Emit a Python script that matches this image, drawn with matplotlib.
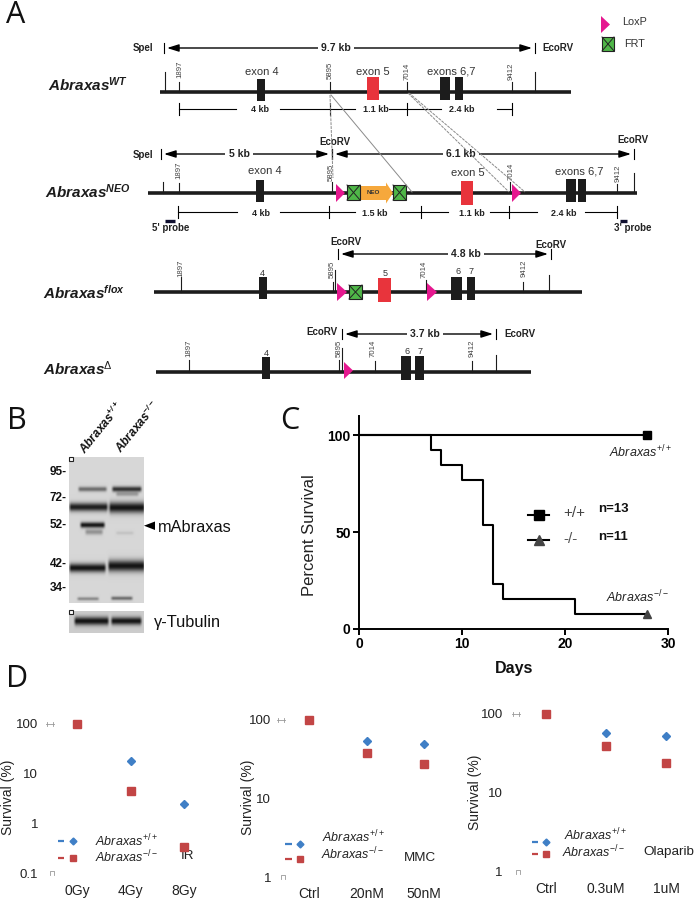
import numpy as np
import matplotlib
matplotlib.use("Agg")
import matplotlib.pyplot as plt
from matplotlib.patches import Rectangle, Polygon, FancyArrow
from matplotlib.ticker import FixedLocator, FixedFormatter, NullLocator

plt.rcParams['font.family'] = ['Liberation Sans', 'DejaVu Sans']
plt.rcParams['mathtext.fontset'] = 'custom'
plt.rcParams['mathtext.rm'] = 'Liberation Sans'
plt.rcParams['mathtext.it'] = 'Liberation Sans:italic'
plt.rcParams['mathtext.bf'] = 'Liberation Sans:bold'
plt.rcParams['mathtext.bfit'] = 'Liberation Sans:italic:bold'
plt.rcParams['mathtext.fallback'] = 'stixsans'

W, H = 697, 900
NARROW = ['Liberation Sans Narrow', 'Liberation Sans']
PINK, RED, ORANGE, GREEN = '#E5188F', '#E8343C', '#F6A83C', '#4FB748'
BLUE, DRED, BK = '#3F7FC6', '#C24545', '#1c1c1c'

# ---------- panel C data ----------
km_days = [0, 7, 8, 10, 12, 13, 14, 21, 28]
km_ko = [100, 92.3, 84.6, 76.9, 53.8, 23.1, 15.4, 7.7, 7.7]
km_wt_days = [0, 28]
km_wt = [100, 100]

# ---------- panel D data ----------
ir_doses = ['0Gy', '4Gy', '8Gy']
ir_wt = [100, 17.8, 2.4]
ir_ko = [100, 4.5, 0.34]
mmc_doses = ['Ctrl', '20nM', '50nM']
mmc_wt = [100, 54, 50]
mmc_ko = [100, 38, 27.5]
ola_doses = ['Ctrl', '0.3uM', '1uM']
ola_wt = [100, 57.5, 52]
ola_ko = [100, 39, 24]

# ---------- panel B data: (lane x0, x1, y centre, y sigma, darkness) ----------
blot_bands = [
    (77, 108, 489, 1.7, .55), (111, 143, 489, 1.9, .85), (115, 140, 494, 1.5, .30),
    (68, 109, 507, 3.0, .95), (108, 146, 507.5, 3.8, 1.0),
    (79, 106, 525, 2.0, 1.0), (84, 104, 532, 1.9, .35), (115, 135, 533, 1.2, .10),
    (68, 107, 568, 3.1, 1.0), (107, 146, 566, 4.0, 1.0),
    (76, 100, 599, 1.2, .40), (110, 134, 598.5, 1.3, .55),
]
tub_bands = [(73, 110, 621, 3.0, 1.0), (110, 143, 621, 2.8, 1.0)]
mw_labels = ['95-', '72-', '52-', '42-', '34-']
mw_y = [472, 498, 525, 564, 588]

# ---------- panel A data ----------
pos_labels = ['1897', '5895', '7014', '9412']
wt = dict(y=92, line=(160, 571),
          ticks=[(165, 72), (179, 82), (330, 82), (407, 82), (512, 82), (535, 72)],
          nums=[(180, 69), (330, 70), (407, 71), (511, 71)],
          black=[(257, 265, 79, 101), (440, 450, 77, 100), (455, 463, 77, 100)],
          red=[(367, 379, 77, 100)], lox=[], frt=[],
          labels=[('exon 4', 262, 72), ('exon 5', 373, 72), ('exons 6,7', 451, 71)])
neo = dict(y=193, line=(148, 637),
           ticks=[(163, 182), (179, 183), (332, 182), (510, 182), (617, 184), (634, 173)],
           nums=[(179, 170), (331, 172), (511, 171), (618, 173)],
           black=[(256, 264, 180, 202), (566, 576, 179, 202), (578, 586, 179, 202)],
           red=[(461, 473, 181, 205)], lox=[(336, 345, 184, 202), (512, 521, 184, 202)],
           frt=[(347, 360, 185, 200), (393, 406, 185, 200)],
           labels=[('exon 4', 265, 171), ('exon 5', 468, 173), ('exons 6,7', 579, 171)])
flox = dict(y=292, line=(154, 582),
            ticks=[(181, 277), (333, 282), (335, 270), (426, 280), (523, 282), (549, 275)],
            nums=[(181, 268), (332, 269), (424, 269), (524, 268)],
            black=[(259, 267, 277, 299), (451, 462, 277, 300), (467, 475, 277, 300)],
            red=[(378, 391, 278, 302)], lox=[(337, 347, 283, 301), (427, 437, 283, 301)],
            frt=[(349, 362, 285, 299)],
            labels=[('4', 262, 273), ('5', 385, 274), ('6', 458, 271), ('7', 471, 271)])
delta = dict(y=372, line=(156, 531),
             ticks=[(188.5, 360), (339, 360), (342, 348), (375, 361), (472, 361), (496, 355)],
             nums=[(189, 348), (339, 348), (373, 348), (472, 348)],
             black=[(262, 270, 357, 379), (401, 411, 356, 380), (415, 424, 356, 380)],
             red=[], lox=[(344, 353, 362, 379)], frt=[],
             labels=[('4', 266, 354), ('6', 407, 351), ('7', 420, 351)])
rows = [wt, neo, flox, delta]

row_names = [(r'$\mathbfit{Abraxas}^{\mathbfit{WT}}$', 48, 85),
             (r'$\mathbfit{Abraxas}^{\mathbfit{NEO}}$', 45, 192),
             (r'$\mathbfit{Abraxas}^{\mathbfit{flox}}$', 43, 293),
             (r'$\mathbfit{Abraxas}^{\Delta}$', 43, 369)]

# (x0, x1, y, label, label x)
span_arrows = [(164, 535, 48, '9.7 kb', 336), (161, 332, 154, '5 kb', 239),
               (332, 634, 154, '6.1 kb', 461), (338, 551, 254, '4.8 kb', 466),
               (342, 496, 334, '3.7 kb', 425)]
site_text = [('SpeI', 143, 48), ('EcoRV', 558, 48), ('SpeI', 143, 155), ('EcoRV', 335, 142),
             ('EcoRV', 633, 140), ('EcoRV', 346, 242), ('EcoRV', 551, 245),
             ('EcoRV', 322, 332), ('EcoRV', 520, 334), ("5' probe", 171, 228), ("3' probe", 633, 228)]
meas_rows = [
    dict(y=109, ticks=[179, 330, 407, 512],
         segs=[(179, 236), (280, 355), (389, 441), (497, 512)],
         labels=[('4 kb', 260), ('1.1 kb', 376), ('2.4 kb', 462)]),
    dict(y=212, ticks=[178, 329, 421, 509, 617],
         segs=[(178, 237), (280, 355), (400, 448), (490, 537), (585, 617)],
         labels=[('4 kb', 261), ('1.5 kb', 375), ('1.1 kb', 472), ('2.4 kb', 564)]),
]
probes = [(165, 175, 221), (620, 627, 221)]
homology = [((330, 95), (333, 178), '--'), ((331, 95), (412, 192), '-'),
            ((408, 93), (509, 192), '--'), ((409, 93), (525, 192), '--')]


def px_axes(x0, x1, ytop, ybot):
    return fig.add_axes([x0 / W, 1 - ybot / H, (x1 - x0) / W, (ybot - ytop) / H], facecolor='none')


fig = plt.figure(figsize=(W / 100, H / 100), dpi=100, facecolor='white')
ov = fig.add_axes([0, 0, 1, 1])
ov.set_xlim(0, W)
ov.set_ylim(H, 0)
ov.axis('off')

for s, x, y in [('A', 16, 15), ('B', 16.5, 421), ('C', 290, 421), ('D', 17, 679)]:
    ov.text(x, y, s, fontsize=22, ha='center', va='center', family=['Open Sans', 'Liberation Sans'], color='#111')


def lox_tri(x0, x1, y0, y1):
    ov.add_patch(Polygon([(x0, y0), (x1, (y0 + y1) / 2), (x0, y1)], fc=PINK, ec='none', zorder=5))


def frt_box(x0, x1, y0, y1):
    ov.add_patch(Rectangle((x0, y0), x1 - x0, y1 - y0, fc=GREEN, ec='#222', lw=.8, zorder=6))
    ov.plot([x0, x1], [y0, y1], color='#222', lw=.7, zorder=7)
    ov.plot([x0, x1], [y1, y0], color='#222', lw=.7, zorder=7)


# ---------- Panel A ----------
for p0, p1, ls in homology:
    ov.plot([p0[0], p1[0]], [p0[1], p1[1]], color='#8a8a8a', lw=.7, ls=ls, dashes=(3, 1) if ls == '--' else (None, None), zorder=8)

for r in rows:
    ov.plot(r['line'], [r['y']] * 2, color=BK, lw=2.6, solid_capstyle='butt', zorder=2)
    for x, top in r['ticks']:
        ov.plot([x, x], [top, r['y']], color=BK, lw=.8, zorder=1)
    for lab, (x, y) in zip(pos_labels, r['nums']):
        ov.text(x, y, lab, fontsize=5.6, rotation=90, ha='center', va='center', color='#444', family=NARROW)
    for x0, x1, y0, y1 in r['black']:
        ov.add_patch(Rectangle((x0, y0), x1 - x0, y1 - y0, fc=BK, ec='none', zorder=3))
    for x0, x1, y0, y1 in r['red']:
        ov.add_patch(Rectangle((x0, y0), x1 - x0, y1 - y0, fc=RED, ec='none', zorder=3))
    for b in r['lox']:
        lox_tri(*b)
    for b in r['frt']:
        frt_box(*b)
    for s, x, y in r['labels']:
        ov.text(x, y, s, fontsize=8 if len(s) > 1 else 6.5, ha='center', va='center', color='#333', family=NARROW)

ov.add_patch(FancyArrow(360, 193, 33, 0, width=14, head_width=21, head_length=7,
                        length_includes_head=True, fc=ORANGE, ec='none', zorder=5))
ov.text(373, 193, 'NEO', fontsize=4.5, fontweight='bold', ha='center', va='center', color='#333', zorder=6)

for s, x, y in row_names:
    ov.text(x, y, s, fontsize=11, ha='left', va='center', color=BK)

for x0, x1, y, lab, lx in span_arrows:
    ov.annotate('', xy=(x1 - 3, y), xytext=(lx, y), zorder=3,
                arrowprops=dict(arrowstyle='-|>,head_length=.7,head_width=.22', lw=1, color='k', shrinkA=0, shrinkB=0))
    ov.annotate('', xy=(x0 + 3, y), xytext=(lx, y), zorder=3,
                arrowprops=dict(arrowstyle='-|>,head_length=.7,head_width=.22', lw=1, color='k', shrinkA=0, shrinkB=0))
    for x in (x0, x1):
        ov.plot([x, x], [y - 5, y + 5], color='k', lw=.8)
    ov.text(lx, y, lab, fontsize=7.5, fontweight='bold', ha='center', va='center', family=NARROW, color='#222',
            zorder=4, bbox=dict(fc='white', ec='none', pad=2.5))

for s, x, y in site_text:
    ov.text(x, y, s, fontsize=7, fontweight='bold', ha='center', va='center', family=NARROW, color='#222')

for m in meas_rows:
    for x0, x1 in m['segs']:
        ov.plot([x0, x1], [m['y']] * 2, color='k', lw=.8)
    for x in m['ticks']:
        ov.plot([x, x], [m['y'] - 6, m['y'] + 6], color='k', lw=.8)
    for s, x in m['labels']:
        ov.text(x, m['y'] + 1, s, fontsize=6.5, fontweight='bold', ha='center', va='center', family=NARROW, color='#222')

for x0, x1, y in probes:
    ov.plot([x0, x1], [y, y], color='#101030', lw=2.4, solid_capstyle='butt')

lox_tri(601, 610, 16, 33)
ov.text(622, 22, 'LoxP', fontsize=7.8, va='center', family=NARROW, color='#333')
frt_box(602, 614, 37, 51)
ov.text(624, 44, 'FRT', fontsize=7.8, va='center', family=NARROW, color='#333')

# ---------- Panel B ----------
def blot(bands, ext, bg, ax=ov):
    x0, x1, y0, y1 = ext
    xs = np.linspace(x0, x1, int(x1 - x0) * 2)
    ys = np.linspace(y0, y1, int(y1 - y0) * 2)
    X, Y = np.meshgrid(xs, ys)
    dark = np.zeros_like(X)
    for a, b, yc, sig, d in bands:
        edge = np.clip((X - a) / 3, 0, 1) * np.clip((b - X) / 3, 0, 1)
        dark += d * edge * np.exp(-.5 * ((Y - yc) / sig) ** 2)
    img = bg * (1 - np.clip(dark, 0, 1)) + .08 * np.clip(dark, 0, 1)
    ax.imshow(img, extent=(x0, x1, y1, y0), cmap='gray', vmin=0, vmax=1, aspect='auto', zorder=1, interpolation='bilinear')


blot(blot_bands, (69, 144, 457, 603), .84)
blot(tub_bands, (69, 144, 611, 633), .80)
ov.set_xlim(0, W)
ov.set_ylim(H, 0)
for y in (458.5, 612):
    ov.add_patch(Rectangle((68.7, y - 2), 4, 4, fc='white', ec='#222', lw=.8, zorder=4))
for s, y in zip(mw_labels, mw_y):
    ov.text(67, y, s, fontsize=8.5, fontweight='bold', ha='right', va='center', color='#111')
for s, x, y in [(r'$\mathbfit{Abraxas}^{\mathbfit{+/+}}$', 88, 457), (r'$\mathbfit{Abraxas}^{\mathbfit{-/-}}$', 124, 456)]:
    ov.text(x, y, s, fontsize=8.5, rotation=51, rotation_mode='anchor', ha='left', va='bottom', color='#111')
ov.add_patch(Polygon([(144, 525.7), (155, 521.5), (155, 530)], fc='k', ec='none'))
ov.text(158, 527, 'mAbraxas', fontsize=11.8, va='center', color='#111')
ov.text(154, 623, '\u03b3-Tubulin', fontsize=11.8, va='center', color='#111')

# ---------- Panel C ----------
c = px_axes(359, 668, 416, 629)
c.set_xlim(0, 30)
c.set_ylim(0, 110)
c.step(km_wt_days, km_wt, where='post', color='k', lw=1.5, clip_on=False)
c.step(km_days, km_ko, where='post', color='k', lw=1.5, clip_on=False)
c.plot(km_wt_days[-1:], km_wt[-1:], 's', color='k', ms=5.5, clip_on=False)
c.plot(km_days[-1:], km_ko[-1:], '^', color='#444', ms=5.5, clip_on=False)
for s in ('top', 'right'):
    c.spines[s].set_visible(False)
for s in ('left', 'bottom'):
    c.spines[s].set_linewidth(1.4)
c.set_xticks([0, 10, 20, 30])
c.set_yticks([0, 50, 100])
c.tick_params(length=4, width=1.4, pad=2)
for t in c.get_xticklabels() + c.get_yticklabels():
    t.set_fontsize(10)
    t.set_fontweight('bold')
ov.text(309, 535, 'Percent Survival', fontsize=12, rotation=90, ha='center', va='center', color='#222')
ov.text(514, 669, 'Days', fontsize=11.5, fontweight='bold', ha='center', va='center', color='#111')
ov.plot([528, 549], [515, 515], color='k', lw=1.5)
ov.plot([538.5], [515], 's', color='k', ms=6.5)
ov.plot([528, 549], [539.5, 539.5], color='k', lw=1.5)
ov.plot([538.5], [539.5], '^', color='#444', ms=6.5)
ov.text(563, 513, '+/+', fontsize=11, va='center', color='#444')
ov.text(563, 539, '-/-', fontsize=11, va='center', color='#555')
ov.text(598, 509, 'n=13', fontsize=9.5, fontweight='bold', va='center', color='#111')
ov.text(598, 537, 'n=11', fontsize=9.5, fontweight='bold', va='center', color='#111')
ov.text(609, 452, r'$\mathit{Abraxas}^{+/+}$', fontsize=9, va='center', color='#222')
ov.text(606, 597, r'$\mathit{Abraxas}^{-/-}$', fontsize=9, va='center', color='#222')

# ---------- Panel D ----------
panels = [
    dict(doses=ir_doses, wt=ir_wt, ko=ir_ko, box=(50, 211, 724, 873), yl=(.1, 100),
         ticks=[.1, 1, 10, 100], tl=['0.1', '1', '10', '100'], ypad=8.6, xpad=8,
         ylab=(8, 797), extra=('IR', 188, 856), hx=(50, 52),
         leg=[(58, 64, 73, 841, 95, 841), (58, 64, 73, 858, 95, 857)]),
    dict(doses=mmc_doses, wt=mmc_wt, ko=mmc_ko, box=(280, 453, 720, 877), yl=(1, 100),
         ticks=[1, 10, 100], tl=['1', '10', '100'], ypad=6.5, xpad=7,
         ylab=(248, 797), extra=('MMC', 420, 858), hx=(281, 282.5),
         leg=[(285, 292, 300, 844, 322, 837), (285, 292, 300, 859, 321, 854)]),
    dict(doses=ola_doses, wt=ola_wt, ko=ola_ko, box=(516, 696, 713.7, 872), yl=(1, 100),
         ticks=[1, 10, 100], tl=['1', '10', '100'], ypad=9.4, xpad=7,
         ylab=(475, 792), extra=('Olaparib', 669, 852), hx=(515.5, 517.5),
         leg=[(532, 538, 546, 842, 564, 835), (532, 538, 546, 854, 562, 852)]),
]
for p in panels:
    x0, x1, yt, yb = p['box']
    a = px_axes(x0, x1, yt, yb)
    xs = np.arange(len(p['doses']))
    a.set_yscale('log')
    a.set_xlim(-.5, 2.5)
    a.set_ylim(*p['yl'])
    a.plot(xs, p['wt'], 'D', color=BLUE, ms=4.5, clip_on=False, zorder=3)
    a.plot(xs, p['ko'], 's', color=DRED, ms=5.8, clip_on=False, zorder=4)
    for s in a.spines.values():
        s.set_visible(False)
    a.yaxis.set_major_locator(FixedLocator(p['ticks']))
    a.yaxis.set_major_formatter(FixedFormatter(p['tl']))
    a.yaxis.set_minor_locator(NullLocator())
    a.set_xticks(xs)
    a.set_xticklabels(p['doses'])
    a.tick_params(axis='y', length=0, pad=p['ypad'], labelsize=9.5, labelcolor='#222')
    a.tick_params(axis='x', length=0, pad=p['xpad'], labelsize=10, labelcolor='#222')
    hx0, hx1 = p['hx']
    ov.plot([hx0 - 4, hx0 + 4], [yt, yt], color='#999', lw=.6)
    for dx in (-3, 3):
        ov.plot([hx0 + dx] * 2, [yt - 2, yt + 2], color='#999', lw=.6)
    ov.plot([hx1 - 2, hx1 - 2, hx1 + 2, hx1 + 2], [yb + 2, yb - 2, yb - 2, yb + 2], color='#999', lw=.6)
    ov.text(*p['ylab'], 'Survival (%)', fontsize=10, rotation=90, ha='center', va='center', color='#222')
    s, ex, ey = p['extra']
    ov.text(ex, ey, s, fontsize=9.7, ha='center', va='center', color='#222')
    for (d0, d1, mx, my, tx, ty), col, mk, ms, lab in zip(
            p['leg'], (BLUE, DRED), ('D', 's'), (3.5, 4.5),
            (r'$\mathit{Abraxas}^{+/+}$', r'$\mathit{Abraxas}^{-/-}$')):
        ov.plot([d0, d1], [my, my], color=col, lw=1.6, solid_capstyle='butt')
        ov.plot([mx], [my], mk, color=col, ms=ms)
        ov.text(tx, ty, lab, fontsize=9, va='center', color='#222')

fig.savefig('out.png', dpi=100, facecolor='white')
